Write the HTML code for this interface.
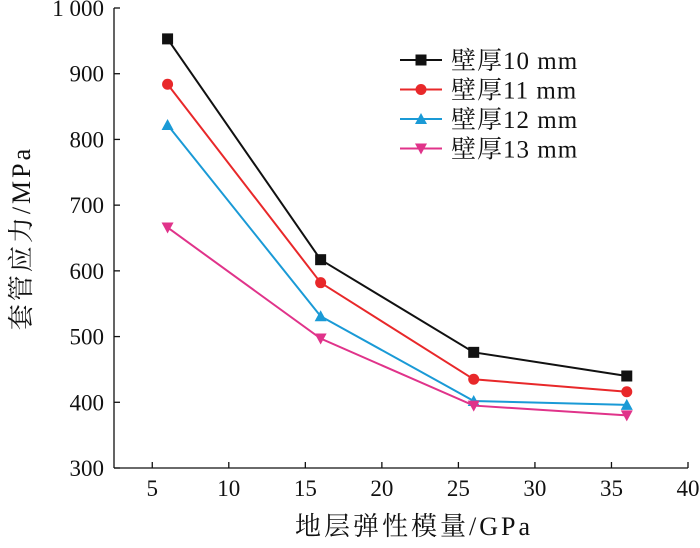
<!DOCTYPE html>
<html><head><meta charset="utf-8"><style>
body{margin:0;background:#fff}
svg text{font-family:"Liberation Serif","Noto Serif CJK SC",serif;fill:#111}
</style></head><body>
<svg id="chart" width="700" height="543" xmlns="http://www.w3.org/2000/svg">
<g id="axes"></g><g id="series"></g><g id="legend"></g>
</svg>
<script>
const xValues=[6,16,26,36];
const s10=[953,617,476,440];
const s11=[884,582,435,416];
const s12=[822,531,402,396];
const s13=[666,497,395,380];
const seriesNames=["壁厚10 mm","壁厚11 mm","壁厚12 mm","壁厚13 mm"];
const xTicks=[5,10,15,20,25,30,35,40];
const yTicks=[300,400,500,600,700,800,900,1000];
const yTickLabels=["300","400","500","600","700","800","900","1 000"];
const L=114,R=688,T=8,B=468,X0=2.5,X1=40,Y0=300,Y1=1000;
const xs=v=>L+(v-X0)/(X1-X0)*(R-L);
const ys=v=>B-(v-Y0)/(Y1-Y0)*(B-T);
const NS="http://www.w3.org/2000/svg";
function mk(tag,attrs,parent){const e=document.createElementNS(NS,tag);for(const k in attrs)e.setAttribute(k,attrs[k]);parent.appendChild(e);return e;}
const ax=document.getElementById('axes');
let e=mk('line',{x1:L,y1:T,x2:L,y2:B,stroke:'#111','stroke-width':1.3},ax);


e=mk('line',{x1:L,y1:B,x2:R,y2:B,stroke:'#111','stroke-width':1.3},ax);


yTicks.forEach((v,i)=>{
  mk('line',{x1:L,y1:ys(v),x2:L+6,y2:ys(v),stroke:'#111','stroke-width':1.3},ax);
  const t=mk('text',{x:L-10,y:ys(v)+8,'text-anchor':'end','font-size':23},ax);
  t.textContent=yTickLabels[i];
  
  
});
xTicks.forEach(v=>{
  mk('line',{x1:xs(v),y1:B,x2:xs(v),y2:B-6,stroke:'#111','stroke-width':1.3},ax);
  const t=mk('text',{x:xs(v),y:B+28,'text-anchor':'middle','font-size':23},ax);
  t.textContent=v;
  
  
});
let t=mk('text',{x:414,y:535,'text-anchor':'middle','font-size':26,'letter-spacing':3},ax);
t.textContent='地层弹性模量/GPa';


t=mk('text',{x:0,y:0,'text-anchor':'middle','font-size':26,'letter-spacing':3,transform:'translate(30,238) rotate(-90)'},ax);
t.textContent='套管应力/MPa';



const all=[s10,s11,s12,s13];
const colors=['#111111','#e8282a','#1a9ad6','#e0338a'];
const shapes=['square','circle','up','down'];
function marker(g,shape,x,y,c){
  if(shape==='square')return mk('rect',{x:x-5.5,y:y-5.5,width:11,height:11,fill:c},g);
  if(shape==='circle')return mk('circle',{cx:x,cy:y,r:5.5,fill:c},g);
  if(shape==='up')return mk('polygon',{points:`${x-6},${y+5} ${x+6},${y+5} ${x},${y-6}`,fill:c},g);
  return mk('polygon',{points:`${x-6},${y-5} ${x+6},${y-5} ${x},${y+6}`,fill:c},g);
}
const sg=document.getElementById('series');
all.forEach((arr,si)=>{
  const g=mk('g',{},sg);
  
  
  const p=mk('polyline',{points:arr.map((v,i)=>xs(xValues[i])+','+ys(v)).join(' '),fill:'none',stroke:colors[si],'stroke-width':2},g);
  
  
  arr.forEach((v,i)=>{
    const m=marker(g,shapes[si],xs(xValues[i]),ys(v),colors[si]);
    
    
  });
});
const lg=document.getElementById('legend');
seriesNames.forEach((n,i)=>{
  const y=60+i*29.5;
  const g=mk('g',{},lg);
  
  
  mk('line',{x1:400,y1:y,x2:442,y2:y,stroke:colors[i],'stroke-width':2},g);
  marker(g,shapes[i],421,y,colors[i]);
  const tt=mk('text',{x:451,y:y+9,'font-size':25,'letter-spacing':1},g);
  tt.textContent=n;
});
</script>
</body></html>
